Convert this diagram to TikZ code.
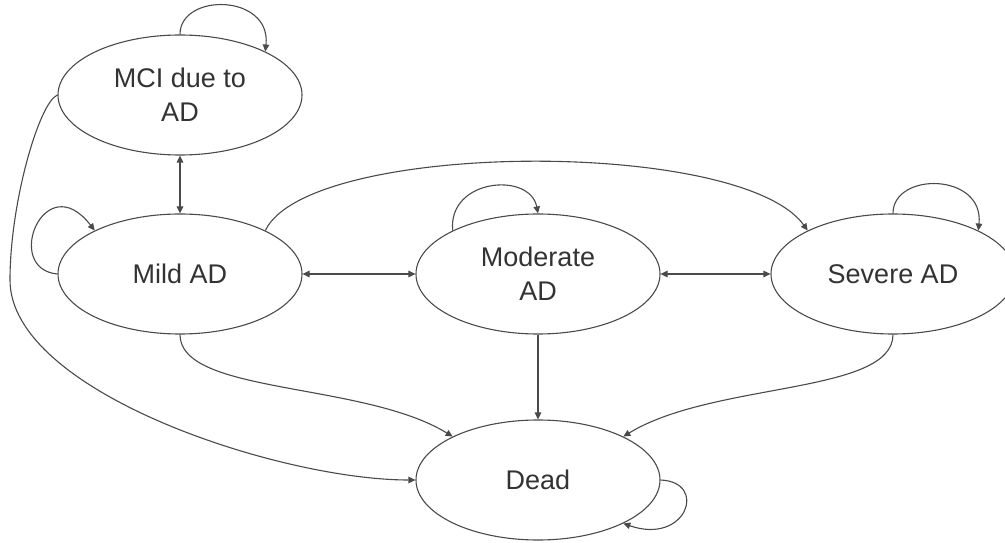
\documentclass[tikz,border=0pt]{standalone}
\usepackage{fontspec}
\setmainfont{Liberation Sans}
\usetikzlibrary{shapes.geometric,arrows.meta}
\definecolor{linec}{HTML}{4A4A4A}
\definecolor{textc}{HTML}{333333}
\begin{document}
\begin{tikzpicture}[x=1pt,y=1pt,
  state/.style={ellipse, draw=linec, line width=1.1pt, minimum width=244pt, minimum height=120pt, inner sep=0pt, align=center, text=textc, font=\fontsize{27}{34}\selectfont},
  conn/.style={draw=linec, line width=1.1pt, -{Triangle[length=7pt,width=6.5pt]}},
  bi/.style={conn, {Triangle[length=7pt,width=6.5pt]}-{Triangle[length=7pt,width=6.5pt]}}]
\useasboundingbox (0,0) rectangle (1005,542);
\clip (0,0) rectangle (1005,542);
\node[state] (mci) at (180,447) {MCI due to\\AD};
\node[state] (mild) at (180,268) {Mild AD};
\node[state] (mod) at (538,268) {Moderate\\AD};
\node[state] (sev) at (893,268) {Severe AD};
\node[state] (dead) at (538,62) {Dead};
\coordinate (bend) at (10,262);
% two-way transitions
\draw[bi] (mci.south) -- (mild.north);
\draw[bi] (mild.east) -- (mod.west);
\draw[bi] (mod.east) -- (sev.west);
\draw[conn] (mod.south) -- (dead.north);
% self loops
\draw[conn] (mci.north) .. controls +(0,42) and +(6,58) .. (mci.27);
\draw[conn] (mild.west) .. controls +(-55,5) and +(-50,65) .. (mild.153);
\draw[conn] (mod.153) .. controls +(-5,52) and +(-8,42) .. (mod.north);
\draw[conn] (sev.north) .. controls +(0,42) and +(6,58) .. (sev.27);
\draw[conn] (dead.east) .. controls +(48,-2) and +(63,-22) .. (dead.333);
% long transitions
\draw[conn] (mild.27) .. controls +(43,90) and +(-67,93) .. (sev.153);
\draw[conn] (mild.south) .. controls +(0,-60) and +(-90,55) .. (dead.153);
\draw[conn] (sev.south) .. controls +(0,-60) and +(90,55) .. (dead.27);
\draw[conn] (mci.west) .. controls +(-18,-7) and +(0,78) .. (bend) .. controls +(0,-112) and +(-136,0) .. (dead.west);
\end{tikzpicture}
\end{document}
